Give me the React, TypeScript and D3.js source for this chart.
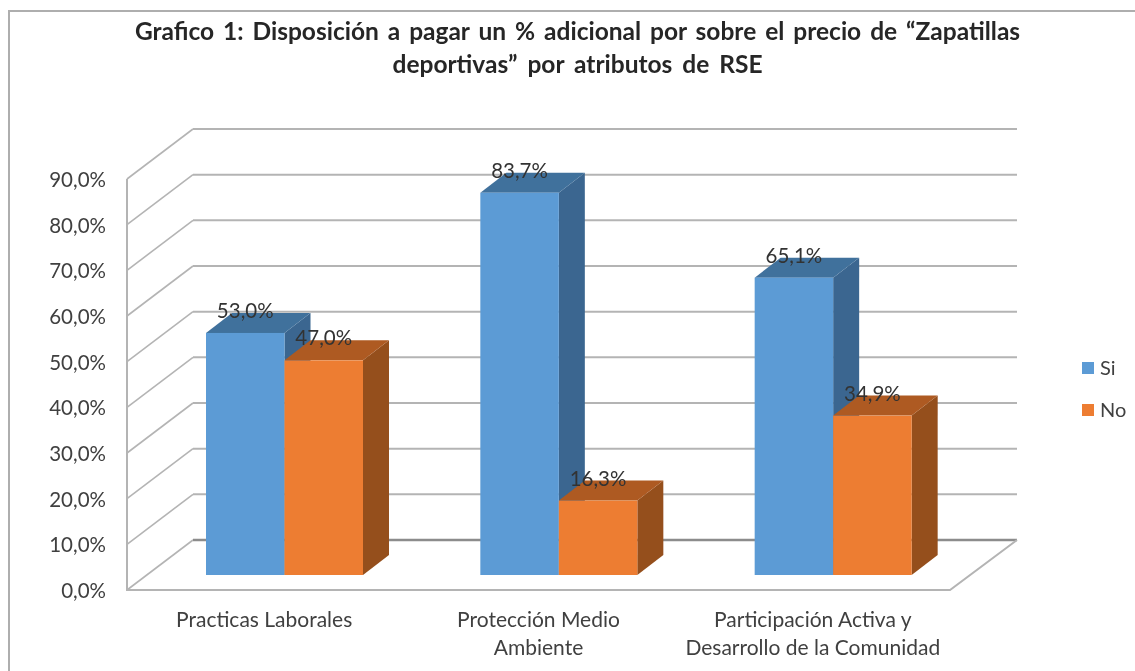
import React, { useEffect, useRef } from 'react';
import * as d3 from 'd3';

const categories = [
  ['Practicas Laborales'],
  ['Protección Medio', 'Ambiente'],
  ['Participación Activa y', 'Desarrollo de la Comunidad'],
];
const siValues = [53.0, 83.7, 65.1];
const noValues = [47.0, 16.3, 34.9];
const yTicks = [0, 10, 20, 30, 40, 50, 60, 70, 80, 90];
const titleLines = [
  'Grafico 1: Disposición a pagar un % adicional por sobre el precio de “Zapatillas',
  'deportivas” por atributos de RSE',
];
const seriesNames = ['Si', 'No'];

const FONT = 'Lato, "Open Sans", sans-serif';
const GRID = '#b4b4b4';
const TEXT = '#404040';

const colors = [
  { front: '#5b9bd5', top: '#41719c', side: '#3a6690' },
  { front: '#ed7d31', top: '#ae5a21', side: '#954f1c' },
];

const App = () => {
  const svgRef = useRef<SVGSVGElement>(null);

  useEffect(() => {
    const svg = d3.select(svgRef.current);
    svg.selectAll('*').remove();

    // slight blur, the source is an upscaled screenshot
    svg.append('defs').append('filter')
      .attr('id', 'soft')
      .attr('x', '-5%').attr('y', '-5%').attr('width', '110%').attr('height', '110%')
      .append('feGaussianBlur')
      .attr('stdDeviation', 0.65);

    const root = svg.append('g').attr('filter', 'url(#soft)');

    // frame: only top and left edges are visible in the crop
    root.append('path')
      .attr('d', d3.line()([[9, 671], [9, 11], [1135, 11]]))
      .attr('fill', 'none')
      .attr('stroke', '#aeaeae')
      .attr('stroke-width', 2);

    // title
    root.selectAll('text.title')
      .data(titleLines)
      .join('text')
      .attr('class', 'title')
      .attr('x', 577.5)
      .attr('y', (_, i) => 40 + i * 33)
      .attr('text-anchor', 'middle')
      .attr('font-family', FONT)
      .attr('font-weight', 700)
      .attr('font-size', 24.5)
      .attr('word-spacing', (_, i) => (i === 0 ? 3 : 4))
      .attr('fill', '#262626')
      .text(d => d);

    // scales
    const y = d3.scaleLinear().domain([0, 90]).range([590, 179]);
    const x = d3.scaleBand<number>()
      .domain(d3.range(categories.length))
      .range([127, 950]);
    const barX = d3.scaleBand<number>()
      .domain([0, 1])
      .range([79, 79 + 157]);

    const wallDx = 66;
    const wallDy = -50;
    const barDx = 26;
    const barDy = -20;
    const barBase = -15; // bars sit a little behind the front floor edge

    // back wall gridlines and their diagonals
    yTicks.forEach(t => {
      root.append('path')
        .attr('d', d3.line()([[127, y(t)], [127 + wallDx, y(t) + wallDy]]))
        .attr('fill', 'none')
        .attr('stroke', GRID)
        .attr('stroke-width', 1.6);
      root.append('path')
        .attr('d', d3.line()([[127 + wallDx, y(t) + wallDy], [1017, y(t) + wallDy]]))
        .attr('fill', 'none')
        .attr('stroke', t === 0 ? '#8c8c8c' : GRID)
        .attr('stroke-width', t === 0 ? 2.4 : 2);
    });

    // left wall edge, floor front edge, floor right edge
    root.append('path')
      .attr('d', d3.line()([
        [127, y(90)],
        [127, y(0)],
        [950, y(0)],
        [1017, y(0) + wallDy],
      ]))
      .attr('fill', 'none')
      .attr('stroke', GRID)
      .attr('stroke-width', 2);

    // bars
    [siValues, noValues].forEach((values, s) => {
      const c = colors[s];
      values.forEach((v, i) => {
        const x0 = x(i)! + barX(s)!;
        const x1 = x0 + barX.bandwidth();
        const y0 = y(0) + barBase;
        const yT = y(v) + barBase;
        const g = root.append('g');
        g.append('path')
          .attr('d', d3.line()([[x1, y0], [x1 + barDx, y0 + barDy], [x1 + barDx, yT + barDy], [x1, yT]]) + 'Z')
          .attr('fill', c.side);
        g.append('path')
          .attr('d', d3.line()([[x0, yT], [x0 + barDx, yT + barDy], [x1 + barDx, yT + barDy], [x1, yT]]) + 'Z')
          .attr('fill', c.top);
        g.append('rect')
          .attr('x', x0)
          .attr('y', yT)
          .attr('width', x1 - x0)
          .attr('height', y0 - yT)
          .attr('fill', c.front);
      });
    });

    // data labels
    [siValues, noValues].forEach((values, s) => {
      values.forEach((v, i) => {
        const x0 = x(i)! + barX(s)!;
        root.append('text')
          .attr('x', x0 + barX.bandwidth() / 2)
          .attr('y', y(v) + barBase - 15)
          .attr('text-anchor', 'middle')
          .attr('font-family', FONT)
          .attr('font-size', 20.5)
          .attr('fill', '#333')
          .text(v.toFixed(1).replace('.', ',') + '%');
      });
    });

    // y axis labels
    root.selectAll('text.ytick')
      .data(yTicks)
      .join('text')
      .attr('class', 'ytick')
      .attr('x', 106)
      .attr('y', d => y(d) + 8)
      .attr('text-anchor', 'end')
      .attr('font-family', FONT)
      .attr('font-size', 20.5)
      .attr('fill', TEXT)
      .text(d => d.toFixed(1).replace('.', ',') + '%');

    // category labels
    categories.forEach((lines, i) => {
      const cx = x(i)! + x.bandwidth() / 2;
      lines.forEach((line, j) => {
        root.append('text')
          .attr('x', cx)
          .attr('y', 626.5 + j * 28.5)
          .attr('text-anchor', 'middle')
          .attr('font-family', FONT)
          .attr('font-size', 21)
          .attr('fill', TEXT)
          .text(line);
      });
    });

    // legend
    seriesNames.forEach((name, i) => {
      const ly = 368 + i * 42;
      root.append('rect')
        .attr('x', 1082)
        .attr('y', ly - 6)
        .attr('width', 12)
        .attr('height', 12)
        .attr('fill', colors[i].front);
      root.append('text')
        .attr('x', 1100)
        .attr('y', ly + 7)
        .attr('font-family', FONT)
        .attr('font-size', 20)
        .attr('fill', TEXT)
        .text(name);
    });
  }, []);

  return (
    <svg
      ref={svgRef}
      width={1135}
      height={671}
      style={{ position: 'absolute', left: 0, top: 0, background: '#fff' }}
    />
  );
};

export default App;
